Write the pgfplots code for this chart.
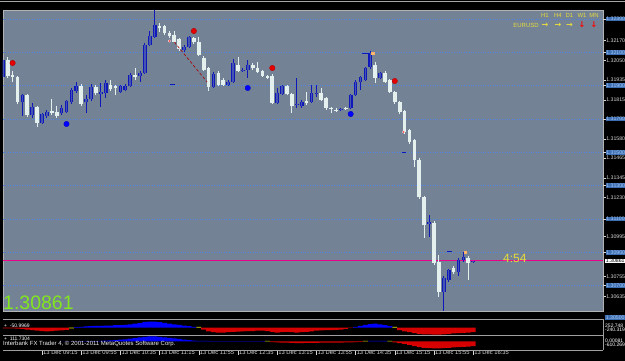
\documentclass[border=0pt]{standalone}
\usepackage{pgfplots}
\pgfplotsset{compat=1.18}
\usepackage{pgfplotstable}
\usepackage{fontspec}
\setmainfont{Liberation Sans}
\newfontfamily\sym{DejaVu Sans}
\definecolor{plotbg}{RGB}{116,130,150}
\definecolor{gridblue}{RGB}{80,130,225}
\definecolor{boxblue}{RGB}{60,110,180}
\definecolor{boxtext}{RGB}{170,200,235}
\definecolor{cwhite}{RGB}{228,240,238}
\definecolor{cblue}{RGB}{15,25,185}
\definecolor{cin}{RGB}{70,85,175}
\definecolor{mtyellow}{RGB}{230,220,60}
\definecolor{mtgreen}{RGB}{130,230,30}
\definecolor{hred}{RGB}{215,0,0}
\definecolor{hyellow}{RGB}{230,230,0}
\definecolor{lbl}{RGB}{215,215,215}

% bullish candles: n open high low close
\pgfplotstableread{
n o h l c
-8 1.31952 1.32066 1.31934 1.32054
-4 1.31802 1.31850 1.31718 1.31844
-2 1.31724 1.31796 1.31706 1.31772
0 1.31676 1.31736 1.31670 1.31730
1 1.31718 1.31754 1.31706 1.31742
4 1.31736 1.31784 1.31724 1.31766
5 1.31742 1.31814 1.31736 1.31808
6 1.31802 1.31886 1.31790 1.31874
7 1.31868 1.31922 1.31856 1.31898
9 1.31802 1.31844 1.31736 1.31820
10 1.31820 1.31910 1.31808 1.31892
12 1.31850 1.31916 1.31772 1.31862
13 1.31856 1.31934 1.31826 1.31916
16 1.31862 1.31904 1.31856 1.31898
17 1.31874 1.31910 1.31868 1.31898
18 1.31898 1.31976 1.31892 1.31964
20 1.31958 1.31988 1.31922 1.31976
21 1.31976 1.32156 1.31970 1.32144
22 1.32144 1.32228 1.32138 1.32198
23 1.32192 1.32354 1.32186 1.32264
29 1.32114 1.32144 1.32102 1.32132
30 1.32132 1.32198 1.32126 1.32192
35 1.31892 1.31982 1.31886 1.31970
38 1.31904 1.31934 1.31898 1.31922
39 1.31922 1.32060 1.31916 1.32036
41 1.31988 1.32006 1.31982 1.31994
42 1.31994 1.32054 1.31946 1.32024
48 1.31796 1.31886 1.31790 1.31856
49 1.31850 1.31904 1.31844 1.31898
52 1.31784 1.31946 1.31766 1.31790
53 1.31778 1.31814 1.31766 1.31802
55 1.31802 1.31904 1.31796 1.31856
56 1.31850 1.31904 1.31832 1.31856
61 1.31754 1.31766 1.31748 1.31760
63 1.31766 1.31850 1.31760 1.31844
64 1.31844 1.31934 1.31838 1.31922
65 1.31922 1.31958 1.31874 1.31952
66 1.31934 1.32012 1.31928 1.32006
67 1.32012 1.32108 1.32000 1.32096
69 1.31946 1.31982 1.31940 1.31976
79 1.31070 1.31124 1.30992 1.31082
82 1.30662 1.30758 1.30542 1.30746
83 1.30734 1.30800 1.30722 1.30794
85 1.30782 1.30866 1.30758 1.30854
86 1.30854 1.30902 1.30842 1.30872
88 1.30842 1.30848 1.30836 1.30848
}\bull

% bearish candles: n open high low close
\pgfplotstableread{
n o h l c
-7 1.32054 1.32072 1.31946 1.31958
-6 1.31964 1.31988 1.31922 1.31952
-5 1.31952 1.31958 1.31790 1.31802
-3 1.31844 1.31850 1.31712 1.31724
-1 1.31772 1.31778 1.31652 1.31676
2 1.31748 1.31820 1.31724 1.31736
3 1.31742 1.31778 1.31706 1.31718
8 1.31898 1.31910 1.31778 1.31790
11 1.31892 1.31904 1.31844 1.31856
14 1.31904 1.31934 1.31868 1.31880
15 1.31898 1.31904 1.31844 1.31886
19 1.31964 1.32006 1.31934 1.31952
24 1.32258 1.32276 1.32222 1.32246
25 1.32258 1.32264 1.32204 1.32216
26 1.32216 1.32228 1.32186 1.32198
27 1.32204 1.32228 1.32156 1.32162
28 1.32180 1.32186 1.32108 1.32120
31 1.32186 1.32192 1.32150 1.32162
32 1.32162 1.32192 1.32078 1.32084
33 1.32066 1.32078 1.31988 1.31994
34 1.32006 1.32012 1.31868 1.31892
36 1.31976 1.31988 1.31898 1.31904
37 1.31934 1.31946 1.31898 1.31904
40 1.32024 1.32072 1.31982 1.31988
43 1.32024 1.32036 1.31994 1.32006
44 1.32006 1.32042 1.31976 1.31982
45 1.31988 1.31994 1.31952 1.31958
46 1.31958 1.31964 1.31940 1.31946
47 1.31958 1.31970 1.31790 1.31796
50 1.31898 1.31904 1.31844 1.31850
51 1.31850 1.31856 1.31736 1.31778
54 1.31808 1.31862 1.31784 1.31796
57 1.31856 1.31886 1.31808 1.31814
58 1.31826 1.31832 1.31754 1.31766
59 1.31766 1.31772 1.31736 1.31760
60 1.31754 1.31766 1.31742 1.31748
62 1.31766 1.31772 1.31754 1.31760
68 1.32024 1.32042 1.31916 1.31946
70 1.31976 1.31988 1.31916 1.31922
71 1.31934 1.31940 1.31856 1.31862
72 1.31862 1.31868 1.31790 1.31802
73 1.31802 1.31808 1.31730 1.31742
74 1.31748 1.31754 1.31610 1.31622
75 1.31634 1.31640 1.31550 1.31562
76 1.31574 1.31580 1.31412 1.31454
77 1.31454 1.31466 1.31220 1.31232
78 1.31232 1.31238 1.30986 1.31064
80 1.31076 1.31088 1.30824 1.30836
81 1.30842 1.30884 1.30632 1.30662
84 1.30806 1.30818 1.30770 1.30782
87 1.30866 1.30878 1.30734 1.30836
}\bear

\pgfplotsset{candle/.style={forget plot, draw=none, no markers, error bars/.cd, y dir=plus, y explicit, error mark=none}}

\begin{document}
\begin{tikzpicture}[x=1pt,y=1pt]
\fill[black] (0,0) rectangle (625,361);
\draw[gray!70, line width=0.8pt] (0,360) -- (625,360);

\begin{axis}[
  at={(3pt,50pt)}, anchor=south west, scale only axis,
  width=600pt, height=301pt,
  xmin=-7.96, xmax=114.5, ymin=1.30548, ymax=1.32354,
  axis background/.style={fill=plotbg},
  axis line style={gray!60, line width=0.6pt},
  xtick=\empty,
  ytick={1.32170,1.32050,1.31935,1.31815,1.31580,1.31465,1.31345,1.31230,1.30995,1.30755,1.30635},
  yticklabels={1.32170,1.32050,1.31935,1.31815,1.31580,1.31465,1.31345,1.31230,1.30995,1.30755,1.30635},
  ytick pos=right, yticklabel pos=right,
  tick align=outside, major tick length=2.5pt,
  ytick style={lbl, line width=0.4pt},
  yticklabel style={font=\fontsize{5.2}{6}\selectfont, text=lbl, inner sep=0.6pt},
  extra y ticks={1.3230,1.3210,1.3190,1.3170,1.3150,1.3130,1.3110,1.3090,1.3070},
  extra y tick labels={1.32300,1.32100,1.31900,1.31700,1.31500,1.31300,1.31100,1.30900,1.30700},
  extra y tick style={grid=major, major grid style={gridblue, dotted, line width=0.8pt},
    yticklabel style={fill=boxblue, text=boxtext}},
]
% current price line
\addplot[magenta, line width=0.6pt, forget plot] coordinates {(-7.96,1.30855) (114.5,1.30855)};
% wicks
\addplot[candle, error bar style={draw=cblue, solid, line width=0.9pt}]
  table[x=n, y=l, y error plus expr=\thisrow{h}-\thisrow{l}] {\bull};
\addplot[candle, error bar style={draw=cwhite, solid, line width=0.9pt}]
  table[x=n, y=l, y error plus expr=\thisrow{h}-\thisrow{l}] {\bear};
% bodies
\addplot[candle, error bar style={draw=cblue, solid, line width=3.7pt}]
  table[x=n, y=o, y error plus expr=\thisrow{c}-\thisrow{o}] {\bull};
\addplot[candle, error bar style={draw=cin, solid, line width=1.5pt}]
  table[x=n, y=o, y error plus expr=\thisrow{c}-\thisrow{o}] {\bull};
\addplot[candle, error bar style={draw=cwhite, solid, line width=3.7pt}]
  table[x=n, y=c, y error plus expr=\thisrow{o}-\thisrow{c}] {\bear};
% trend line
\addplot[red!65!black, densely dashed, line width=0.6pt] coordinates {(27,1.32162) (33.7,1.31922)};
% small pivot dashes
\addplot[cblue, line width=0.8pt] coordinates {(26.2,1.31910) (27.2,1.31910)};
\addplot[cblue, line width=0.8pt] coordinates {(65.3,1.32096) (66.6,1.32096)};
\addplot[cblue, line width=0.8pt] coordinates {(73.4,1.31502) (74.3,1.31502)};
\addplot[cblue, line width=0.8pt] coordinates {(82.7,1.30904) (83.7,1.30904)};
% fractal dots
\addplot[only marks, mark=*, mark size=2.7pt, mark options={fill=red!90!black, draw=red!70!black}]
  coordinates {(-6,1.32036) (31,1.32228) (47,1.32006) (72,1.31928)};
\addplot[only marks, mark=*, mark size=2.7pt, mark options={fill=blue, draw=blue!80!black}]
  coordinates {(5,1.31670) (42,1.31886) (63,1.31730)};
\addplot[only marks, mark=*, mark size=1.2pt, mark options={fill=red, draw=white}]
  coordinates {(26,1.32168) (73.8,1.31622)};
\addplot[only marks, mark=square*, mark size=1.1pt, mark options={fill=orange!50!white, draw=orange!60!white}]
  coordinates {(67.5,1.32096) (86.3,1.30902)};
\end{axis}

% indicator panel 1
\begin{axis}[
  at={(3pt,26pt)}, anchor=south west, scale only axis,
  width=600pt, height=15pt,
  xmin=-7.96, xmax=114.5, ymin=-240.319, ymax=252.748, hide axis,
]
\addplot[ybar, bar width=1, bar shift=0pt, fill=hred, draw=none] coordinates {
(-8,-20) (-7,-20) (-6,-20) (-5,-30) (-4,-40) (-3,-60) (-2,-80) (-1,-100) (0,-110) (1,-120) (2,-110) (3,-100) (4,-90) (5,-70)
(33,-60) (34,-120) (35,-150) (36,-160) (37,-160) (38,-150) (39,-140) (40,-130) (41,-120) (42,-110) (43,-110) (44,-100) (45,-100) (46,-110) (47,-140) (48,-160) (49,-150) (50,-140) (51,-150) (52,-160) (53,-150) (54,-140) (55,-120) (56,-100) (57,-90) (58,-80) (59,-80) (60,-70) (61,-60) (62,-40) (63,-10)
(73,-80) (74,-120) (75,-150) (76,-180) (77,-200) (78,-220) (79,-220) (80,-230) (81,-230) (82,-220) (83,-200) (84,-190) (85,-180) (86,-170) (87,-160) (88,-150)};
\addplot[ybar, bar width=1, bar shift=0pt, fill=blue, draw=none] coordinates {
(7,20) (8,30) (9,40) (10,50) (11,60) (12,60) (13,70) (14,70) (15,80) (16,80) (17,90) (18,110) (19,130) (20,150) (21,190) (22,200) (23,200) (24,180) (25,160) (26,130) (27,110) (28,90) (29,70) (30,50) (31,30)
(64,30) (65,60) (66,90) (67,120) (68,130) (69,110) (70,80) (71,50)};
\addplot[ybar, bar width=1, bar shift=0pt, fill=hyellow, draw=none] coordinates {(6,-25) (32,25) (72,25)};
\end{axis}

% indicator panel 2 with time axis
\begin{axis}[
  at={(3pt,11pt)}, anchor=south west, scale only axis,
  width=600pt, height=14.5pt,
  xmin=-7.96, xmax=114.5, ymin=-610.269, ymax=430,
  axis line style={draw=none},
  ytick=\empty,
  xtick={-8,0,8,16,24,32,40,48,56,64,72,80,88},
  xticklabels={13 Dec 2011,13 Dec 09:15,13 Dec 09:55,13 Dec 10:35,13 Dec 11:15,13 Dec 11:55,13 Dec 12:35,13 Dec 13:15,13 Dec 13:55,13 Dec 14:35,13 Dec 15:15,13 Dec 15:55,13 Dec 16:35},
  xtick pos=bottom, tick align=outside, major tick length=5pt,
  xtick style={lbl, line width=0.5pt},
  xticklabel style={font=\fontsize{5.8}{6}\selectfont, text=lbl, anchor=west, xshift=0.5pt, yshift=2.5pt, inner sep=0.5pt},
]
\addplot[ybar, bar width=1, bar shift=0pt, fill=blue, draw=none] coordinates {
(4,15) (5,15) (6,15) (7,15) (8,20) (9,20) (10,20) (11,25) (12,40) (13,60) (14,80) (15,100) (16,130) (17,160) (18,200) (19,250) (20,300) (21,340) (22,370) (23,370) (24,340) (25,300) (26,260) (27,220) (28,180) (29,140) (30,100) (31,70) (32,50) (33,40) (34,40) (35,30) (36,30) (37,30) (38,30) (39,30) (40,20) (41,20) (42,20) (43,20) (44,20) (45,20)
(67,40) (68,50) (69,50) (70,40)};
\addplot[ybar, bar width=1, bar shift=0pt, fill=hyellow, draw=none] coordinates {(46,45) (66,45) (71,45)};
\addplot[ybar, bar width=1, bar shift=0pt, fill=hred, draw=none] coordinates {
(47,-40) (48,-60) (49,-80) (50,-90) (51,-100) (52,-110) (53,-110) (54,-100) (55,-100) (56,-100) (57,-90) (58,-90) (59,-90) (60,-80) (61,-80) (62,-70) (63,-60) (64,-50) (65,-30)
(72,-60) (73,-120) (74,-180) (75,-250) (76,-330) (77,-400) (78,-450) (79,-480) (80,-500) (81,-500) (82,-480) (83,-460) (84,-430) (85,-400) (86,-380) (87,-360) (88,-340)};
\end{axis}

% separators
\draw[gray!75, line width=0.6pt] (3,42) -- (603,42);
\draw[gray!75, line width=0.6pt] (3,25.5) -- (603,25.5);
\draw[gray!75, line width=0.6pt] (3,11) -- (603,11);
\draw[gray!75, line width=0.5pt] (603,11) -- (603,42);

% texts
\node[anchor=base west, text=mtgreen, font=\fontsize{19.5}{20}\selectfont, inner sep=0] at (3,51.5) {1.30861};
\node[anchor=base west, text=mtyellow, font=\fontsize{12}{12}\selectfont, inner sep=0] at (503,98) {4:54};
\node[fill=white, text=black, anchor=west, font=\fontsize{5.2}{6}\selectfont, inner sep=0.6pt] at (605,100) {1.30861};
\node[fill=boxblue, text=boxtext, anchor=west, font=\fontsize{5.2}{6}\selectfont, inner sep=0.6pt] at (605,43.5) {1.30500};

\foreach \x/\t in {545/H1,558/H4,569.5/D1,582/W1,594/MN}
  \node[text=mtyellow, font=\fontsize{6}{6}\selectfont, inner sep=0] at (\x,346) {\t};
\node[text=mtyellow, font=\fontsize{6}{6}\selectfont, inner sep=0] at (526,336) {EURUSD};
\foreach \x in {545,558,569.5}
  \node[text=mtyellow, font=\sym\bfseries\fontsize{8}{8}\selectfont, inner sep=0] at (\x,336) {→};
\foreach \x in {582,594}
  \node[text=red, font=\sym\bfseries\fontsize{8}{8}\selectfont, inner sep=0] at (\x,336) {↓};

\node[anchor=west, text=white, font=\fontsize{5}{5}\selectfont, inner sep=0] at (4,35.5) {+\ \ -50.9969};
\node[anchor=west, text=white, font=\fontsize{5}{5}\selectfont, inner sep=0] at (4,22.5) {+\ \ 111.7304};
\node[anchor=west, text=white!90!gray, font=\fontsize{6}{6}\selectfont, inner sep=0] at (3,17) {Interbank FX Trader 4, © 2001-2011 MetaQuotes Software Corp.};
\node[anchor=west, text=white, font=\fontsize{5}{5}\selectfont, inner sep=0] at (605,35.3) {252.748};
\node[anchor=west, text=white, font=\fontsize{5}{5}\selectfont, inner sep=0] at (605,31) {-240.319};
\node[anchor=west, text=white, font=\fontsize{5}{5}\selectfont, inner sep=0] at (605,20.3) {0.00081};
\node[anchor=west, text=white, font=\fontsize{5}{5}\selectfont, inner sep=0] at (605,16) {-610.269};

\pgfresetboundingbox
\useasboundingbox (0,0) rectangle (625,361);
\end{tikzpicture}
\end{document}
